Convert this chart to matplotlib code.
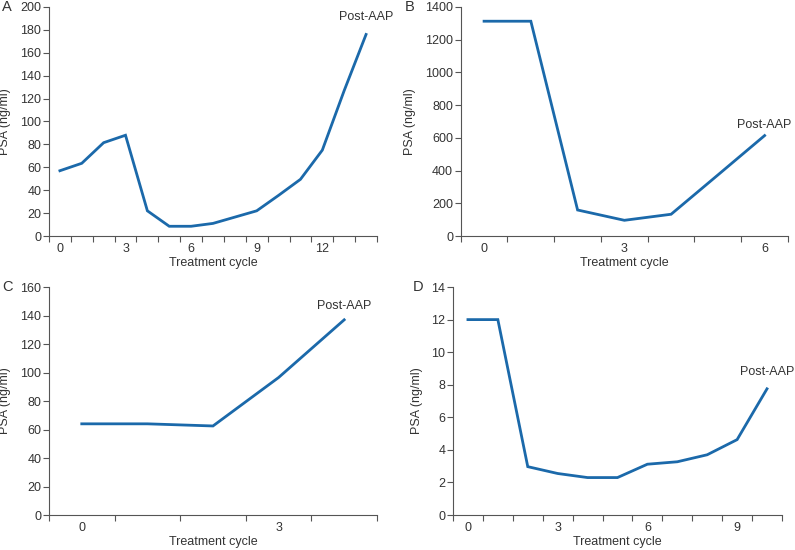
import matplotlib
matplotlib.use("Agg")
import matplotlib.pyplot as plt
import numpy as np

plt.rcParams['font.family'] = ['Liberation Sans', 'DejaVu Sans']

# Panel A
a_cycles = list(range(15))
a_psa = [57, 63.5, 81.5, 88, 22, 8.5, 8.5, 11, 16.5, 22, 35.5, 49.5, 75, 127, 176]
a_ticklabels = {0: "0", 3: "3", 6: "6", 9: "9", 12: "12"}
a_yticks = list(range(0, 201, 20))

# Panel B
b_cycles = list(range(7))
b_psa = [1313, 1313, 159, 96, 133, 373, 614]
b_ticklabels = {0: "0", 3: "3", 6: "6"}
b_yticks = list(range(0, 1401, 200))

# Panel C
c_cycles = list(range(5))
c_psa = [64, 64, 62.5, 96.5, 137]
c_ticklabels = {0: "0", 3: "3"}
c_yticks = list(range(0, 161, 20))

# Panel D
d_cycles = list(range(11))
d_psa = [12, 12, 2.97, 2.55, 2.3, 2.3, 3.12, 3.27, 3.7, 4.63, 7.75]
d_ticklabels = {0: "0", 3: "3", 6: "6", 9: "9"}
d_yticks = list(range(0, 15, 2))

line_color = "#1b69aa"
axis_color = "#555555"
text_color = "#333333"

W, H = 795, 550
fig = plt.figure(figsize=(W / 100, H / 100), dpi=100)

# (letter, axes rect, x, y, tick labels, yticks, post-AAP pos, letter pos px, ylabel x frac)
panels = [
    ("A", [0.0616, 0.5709, 0.4126, 0.4164], a_cycles, a_psa, a_ticklabels, a_yticks, (14, 191), (2, 7), -0.116),
    ("B", [0.5795, 0.5709, 0.4117, 0.4164], b_cycles, b_psa, b_ticklabels, b_yticks, (6, 678), (405, 7), -0.137),
    ("C", [0.0616, 0.0636, 0.4126, 0.4145], c_cycles, c_psa, c_ticklabels, c_yticks, (4, 146.7), (2, 287), -0.116),
    ("D", [0.5698, 0.0636, 0.4138, 0.4145], d_cycles, d_psa, d_ticklabels, d_yticks, (10, 8.8), (413, 287), -0.091),
]

for label, rect, xs, ys, tlabels, yticks, post, lpos, ylx in panels:
    ax = fig.add_axes(rect)
    ax.plot(xs, ys, color=line_color, lw=2.0, solid_joinstyle='miter')
    n = len(xs)
    ax.set_xlim(-0.5, n - 0.5)
    ax.set_ylim(yticks[0], yticks[-1])
    ax.set_yticks(yticks)
    ax.set_yticklabels([str(v) for v in yticks])
    ax.set_xticks(list(tlabels.keys()))
    ax.set_xticklabels(list(tlabels.values()))
    ax.set_xticks(np.arange(-0.5, n, 1.0), minor=True)
    ax.tick_params(axis='x', which='major', length=0, pad=5, labelsize=9, labelcolor=text_color)
    ax.tick_params(axis='x', which='minor', length=4, width=0.8, color=axis_color, direction='out')
    ax.tick_params(axis='y', which='major', length=4, width=0.8, color=axis_color, pad=1.5,
                   labelsize=9, labelcolor=text_color)
    for s in ['top', 'right']:
        ax.spines[s].set_visible(False)
    for s in ['left', 'bottom']:
        ax.spines[s].set_color(axis_color)
        ax.spines[s].set_linewidth(0.8)
    ax.set_xlabel("Treatment cycle", fontsize=9, color=text_color, labelpad=1.5)
    ax.set_ylabel("PSA (ng/ml)", fontsize=9, color=text_color)
    ax.yaxis.set_label_coords(ylx, 0.5)
    ax.text(post[0], post[1], "Post-AAP", ha='center', va='center', fontsize=9,
            color=text_color, clip_on=False)
    fig.text(lpos[0] / W, 1 - lpos[1] / H, label, fontsize=10.5, color=text_color,
             ha='left', va='center')

fig.savefig("out.png", dpi=100)
